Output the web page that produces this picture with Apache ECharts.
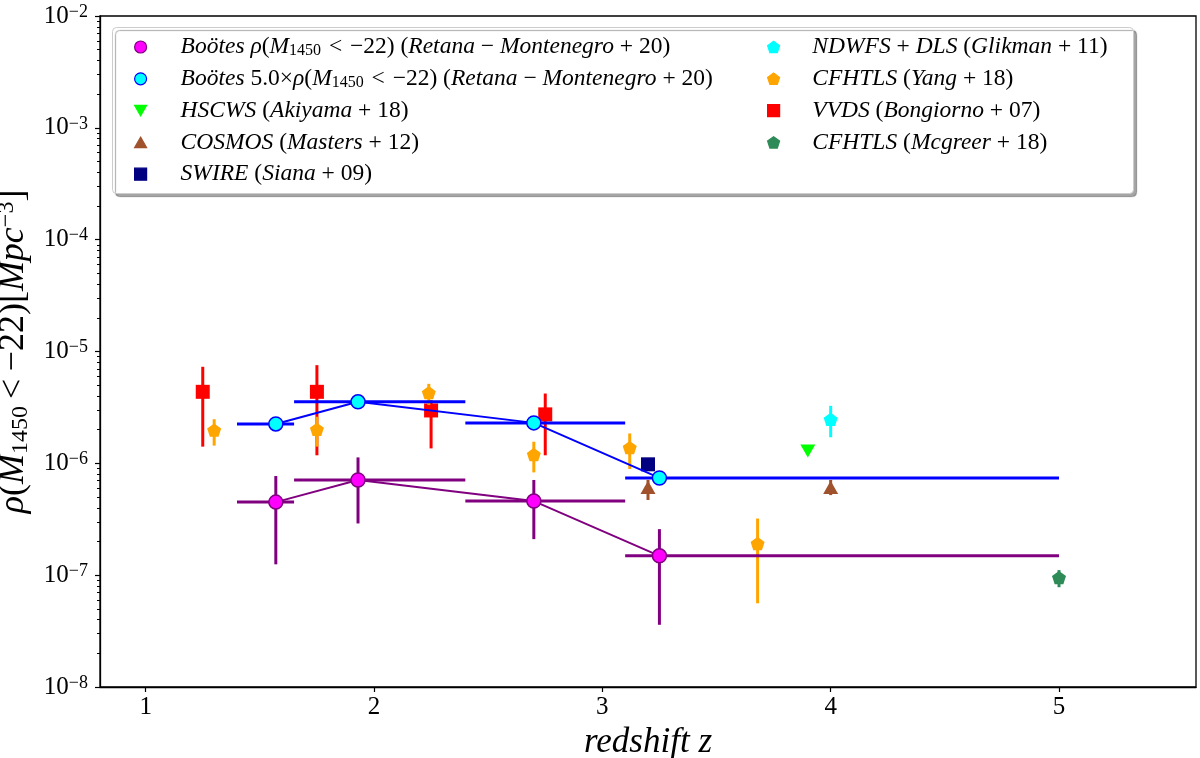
<!DOCTYPE html>
<html>
<head>
<meta charset="utf-8">
<title>rho(M1450 < -22) vs redshift</title>
<script src="https://cdn.jsdelivr.net/npm/echarts@6.0.0/dist/echarts.min.js"></script>
<style>
html,body{margin:0;padding:0;background:#fff;}
#charts{width:1200px;height:758px;}
</style>
</head>
<body>
<div id="charts"></div>
<script>
// tick labels
var xTicks = [1, 2, 3, 4, 5];
var yTicks = [1e-8, 1e-7, 1e-6, 1e-5, 1e-4, 1e-3, 1e-2];

// Bootes (Retana-Montenegro+20)
var booZ = [1.57, 1.93, 2.70, 3.25];
var booZlo = [1.40, 1.65, 2.40, 3.10];
var booZhi = [1.65, 2.40, 3.10, 5.00];
var booRho = [4.5e-7, 7.1e-7, 4.6e-7, 1.49e-7];
var booLo = [1.25e-7, 2.9e-7, 2.1e-7, 3.6e-8];
var booHi = [7.7e-7, 1.13e-6, 7.1e-7, 2.58e-7];
var boo5Rho = [2.25e-6, 3.55e-6, 2.30e-6, 7.4e-7];

// HSCWS (Akiyama+18)
var akiZ = [3.90];
var akiRho = [1.29e-6];
// COSMOS (Masters+12)
var masZ = [3.20, 4.00];
var masRho = [6.1e-7, 6.1e-7];
var masLo = [4.7e-7, 5.2e-7];
var masHi = [7.1e-7, 7.1e-7];
// SWIRE (Siana+09)
var sianaZ = [3.20];
var sianaRho = [9.8e-7];
// NDWFS+DLS (Glikman+11)
var gliZ = [4.00];
var gliRho = [2.47e-6];
var gliLo = [1.71e-6];
var gliHi = [3.27e-6];
// CFHTLS (Yang+18)
var yangZ = [1.30, 1.75, 2.24, 2.70, 3.12, 3.68];
var yangRho = [1.98e-6, 2.01e-6, 4.28e-6, 1.20e-6, 1.38e-6, 1.92e-7];
var yangLo = [1.44e-6, 1.41e-6, 3.32e-6, 8.3e-7, 8.9e-7, 5.6e-8];
var yangHi = [2.48e-6, 2.61e-6, 5.14e-6, 1.56e-6, 1.85e-6, 3.21e-7];
// VVDS (Bongiorno+07)
var bonZ = [1.25, 1.75, 2.25, 2.75];
var bonRho = [4.36e-6, 4.36e-6, 2.97e-6, 2.74e-6];
var bonLo = [1.41e-6, 1.18e-6, 1.36e-6, 1.18e-6];
var bonHi = [7.3e-6, 7.55e-6, 3.67e-6, 4.21e-6];
// CFHTLS (Mcgreer+18)
var mcgZ = [5.00];
var mcgRho = [9.5e-8];
var mcgLo = [7.8e-8];
var mcgHi = [1.11e-7];

var FONT = 'Liberation Serif';
var PENTA = 'path://M0,-1 L0.951,-0.309 L0.588,0.809 L-0.588,0.809 L-0.951,-0.309 Z';
var TRI_DOWN = 'path://M0,0 L2,0 L1,1.75 Z';
var TRI_UP = 'path://M1,0 L2,1.75 L0,1.75 Z';
var SQUARE = 'path://M0,0 L1,0 L1,1 L0,1 Z';

// minor ticks of the log axis
var yMinor = [];
for (var e = -8; e < -2; e++) {
	for (var m = 2; m <= 9; m++) {
		yMinor.push(m * Math.pow(10, e));
	}
}

function pts(xs, ys){
	var out = [];
	for (var i = 0; i < xs.length; i++) out.push([xs[i], ys[i]]);
	return out;
}
function errs(a, b, c){
	var out = [];
	for (var i = 0; i < a.length; i++) out.push([a[i], b[i], c[i]]);
	return out;
}

// vertical error bar: [x, lo, hi]
function vErr(name, data, color, z){
	return {
		name: name, type: 'custom', z: z, data: data,
		encode: {x: 0, y: [1, 2]},
		renderItem: function(params, api){
			var p1 = api.coord([api.value(0), api.value(1)]);
			var p2 = api.coord([api.value(0), api.value(2)]);
			return {type: 'line', shape: {x1: p1[0], y1: p1[1], x2: p2[0], y2: p2[1]},
				style: {stroke: color, lineWidth: 3}};
		}
	};
}
// horizontal error bar: [xlo, xhi, y]
function hErr(name, data, color, z){
	return {
		name: name, type: 'custom', z: z, data: data,
		encode: {x: [0, 1], y: 2},
		renderItem: function(params, api){
			var p1 = api.coord([api.value(0), api.value(2)]);
			var p2 = api.coord([api.value(1), api.value(2)]);
			return {type: 'line', shape: {x1: p1[0], y1: p1[1], x2: p2[0], y2: p2[1]},
				style: {stroke: color, lineWidth: 3}};
		}
	};
}
function marks(name, data, symbol, size, color, border, z){
	return {
		name: name, type: 'scatter', z: z, data: data,
		symbol: symbol, symbolSize: size, symbolKeepAspect: true,
		itemStyle: {color: color, borderColor: border || color, borderWidth: border ? 1.5 : 0, opacity: 1}
	};
}

var SP = '\u2004';
var legendText = {
	'boo': '{i|Boötes }{i|ρ}{r|(}{i|M}{s|1450}{r|' + SP + '<' + SP + '−22) (}{i|Retana}{r| − }{i|Montenegro}{r| + 20)}',
	'boo5': '{i|Boötes }{r|5.0×}{i|ρ}{r|(}{i|M}{s|1450}{r|' + SP + '<' + SP + '−22) (}{i|Retana}{r| − }{i|Montenegro}{r| + 20)}',
	'aki': '{i|HSCWS }{r|(}{i|Akiyama}{r| + 18)}',
	'mas': '{i|COSMOS }{r|(}{i|Masters}{r| + 12)}',
	'sia': '{i|SWIRE }{r|(}{i|Siana}{r| + 09)}',
	'gli': '{i|NDWFS}{r| + }{i|DLS }{r|(}{i|Glikman}{r| + 11)}',
	'yan': '{i|CFHTLS }{r|(}{i|Yang}{r| + 18)}',
	'bon': '{i|VVDS }{r|(}{i|Bongiorno}{r| + 07)}',
	'mcg': '{i|CFHTLS }{r|(}{i|Mcgreer}{r| + 18)}'
};
function legendBlock(left, gap, names){
	return {
		data: names, orient: 'vertical', left: left, top: 35, padding: 0,
		itemGap: 7.8, itemWidth: 12, itemHeight: 12, selectedMode: false, z: 10,
		itemStyle: {borderWidth: 1.2},
		formatter: function(n){ return '{g|}' + legendText[n]; },
		textStyle: {rich: {
			g: {width: gap, lineHeight: 24},
			i: {fontFamily: FONT, fontStyle: 'italic', fontSize: 23.5, lineHeight: 24, color: '#000'},
			r: {fontFamily: FONT, fontSize: 23.5, lineHeight: 24, color: '#000'},
			s: {fontFamily: FONT, fontSize: 16, lineHeight: 10, verticalAlign: 'bottom', color: '#000'}
		}}
	};
}

var charts = echarts.init(document.getElementById('charts'));
var option = {
	animation: false,
	backgroundColor: '#fff',
	grid: {left: 100, right: 4, top: 16, bottom: 71, outerBoundsMode: 'none', containLabel: false,
		show: true, borderColor: '#000', borderWidth: 1.3, backgroundColor: 'transparent'},
	legend: [legendBlock(134, 29, ['boo', 'boo5', 'aki', 'mas', 'sia']), legendBlock(767, 27.7, ['gli', 'yan', 'bon', 'mcg'])],
	graphic: [{
		type: 'rect', left: 112, top: 27, z: 3,
		shape: {width: 1021, height: 166, r: 4},
		style: {fill: '#fff', stroke: '#cccccc', lineWidth: 1,
			shadowColor: 'rgba(0,0,0,0.35)', shadowOffsetX: 3, shadowOffsetY: 3, shadowBlur: 1}
	}],
	xAxis: {
		type: 'value', min: 0.8, max: 5.6,
		name: 'redshift z', nameLocation: 'middle', nameGap: 36,
		nameTextStyle: {fontFamily: FONT, fontStyle: 'italic', fontSize: 35, color: '#000'},
		axisLine: {lineStyle: {color: '#000', width: 1.3}},
		axisTick: {customValues: xTicks, length: 5, lineStyle: {color: '#000', width: 1.2}},
		axisLabel: {customValues: xTicks, margin: 8, fontFamily: FONT, fontSize: 25, color: '#000'},
		splitLine: {show: false}
	},
	yAxis: [{
		type: 'log', logBase: 10, min: 1e-8, max: 1e-2,
		name: '{i|ρ}{r|(}{i|M}{s|1450}{r|\u2009<\u2009−22)[}{i|Mpc}{p|−3}{r|]}',
		nameLocation: 'middle', nameGap: 52, nameRotate: 90,
		nameTextStyle: {rich: {
			i: {fontFamily: FONT, fontStyle: 'italic', fontSize: 36, lineHeight: 38, color: '#000'},
			r: {fontFamily: FONT, fontSize: 36, lineHeight: 38, color: '#000'},
			s: {fontFamily: FONT, fontSize: 24, lineHeight: 14, verticalAlign: 'bottom', color: '#000'},
			p: {fontFamily: FONT, fontSize: 24, lineHeight: 14, verticalAlign: 'top', color: '#000'}
		}},
		axisLine: {lineStyle: {color: '#000', width: 1.3}},
		axisTick: {customValues: yTicks, length: 5, lineStyle: {color: '#000', width: 1.2}},
		axisLabel: {
			customValues: yTicks, margin: 12,
			formatter: function(v){ return '{b|10}{p|−' + Math.round(-Math.log(v) / Math.LN10) + '}'; },
			rich: {
				b: {fontFamily: FONT, fontSize: 25, lineHeight: 26, color: '#000'},
				p: {fontFamily: FONT, fontSize: 18, lineHeight: 14, verticalAlign: 'top', color: '#000'}
			}
		},
		splitLine: {show: false}
	}, {
		type: 'log', logBase: 10, min: 1e-8, max: 1e-2, position: 'left',
		axisLine: {show: false},
		axisTick: {customValues: yMinor, length: 3, lineStyle: {color: '#000', width: 1}},
		axisLabel: {show: false},
		splitLine: {show: false}
	}],
	series: [
		vErr('bonErr', errs(bonZ, bonLo, bonHi), '#ff0000', 2),
		marks('bon', pts(bonZ, bonRho), SQUARE, 14, '#ff0000', null, 2.5),
		vErr('yanErr', errs(yangZ, yangLo, yangHi), '#ffa500', 2.6),
		marks('yan', pts(yangZ, yangRho), PENTA, 14, '#ffa500', null, 2.7),
		vErr('masErr', errs(masZ, masLo, masHi), '#a0522d', 2.6),
		marks('mas', pts(masZ, masRho), TRI_UP, 15, '#a0522d', null, 2.7),
		marks('sia', pts(sianaZ, sianaRho), SQUARE, 14, '#000080', null, 2.7),
		marks('aki', pts(akiZ, akiRho), TRI_DOWN, 15, '#00ff00', null, 2.7),
		vErr('gliErr', errs(gliZ, gliLo, gliHi), '#00ffff', 2.6),
		marks('gli', pts(gliZ, gliRho), PENTA, 14, '#00ffff', null, 2.7),
		vErr('mcgErr', errs(mcgZ, mcgLo, mcgHi), '#2e8b57', 2.6),
		marks('mcg', pts(mcgZ, mcgRho), PENTA, 14, '#2e8b57', null, 2.7),
		// Bootes on top
		hErr('booH', errs(booZlo, booZhi, booRho), '#800080', 4),
		vErr('booV', errs(booZ, booLo, booHi), '#800080', 4),
		{name: 'booLine', type: 'line', z: 4, data: pts(booZ, booRho), showSymbol: false,
			lineStyle: {color: '#800080', width: 2}},
		marks('boo', pts(booZ, booRho), 'circle', 14, '#ff00ff', '#800080', 5),
		hErr('boo5H', errs(booZlo, booZhi, boo5Rho), '#0000ff', 4),
		{name: 'boo5Line', type: 'line', z: 4, data: pts(booZ, boo5Rho), showSymbol: false,
			lineStyle: {color: '#0000ff', width: 2}},
		marks('boo5', pts(booZ, boo5Rho), 'circle', 14, '#00ffff', '#0000ff', 5)
	]
};
charts.setOption(option);
</script>
</body>
</html>
